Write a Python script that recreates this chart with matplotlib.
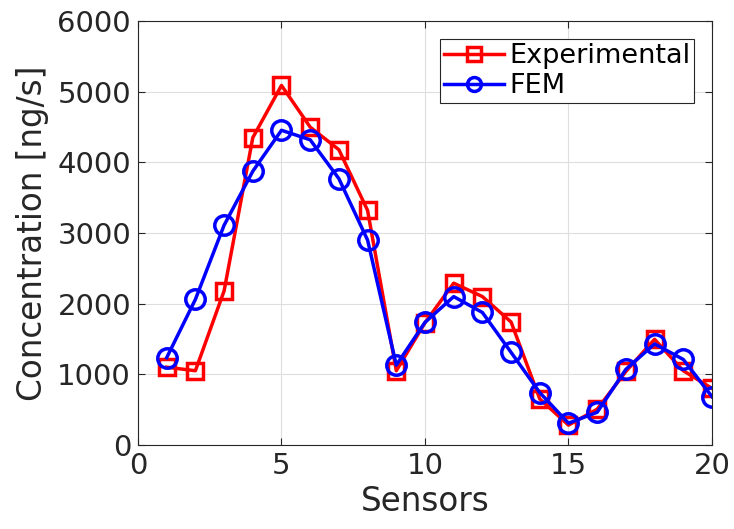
import matplotlib
matplotlib.use('Agg')
import matplotlib.pyplot as plt

sensors = list(range(1, 21))
experimental = [1100, 1050, 2180, 4350, 5090, 4500, 4180, 3320, 1050, 1730,
                2290, 2100, 1740, 650, 280, 505, 1040, 1495, 1050, 800]
fem = [1235, 2060, 3110, 3875, 4455, 4320, 3770, 2900, 1130, 1735,
       2100, 1875, 1310, 740, 307, 462, 1070, 1430, 1210, 683]

plt.rcParams['font.family'] = 'DejaVu Sans'
dark = (0.15, 0.15, 0.15)

fig = plt.figure(figsize=(7.34, 5.29), dpi=100)
ax = fig.add_axes([0.188, 0.159, 0.782, 0.801])

ax.plot(sensors, experimental, color='red', lw=2.5, marker='s', markersize=12,
        markerfacecolor='none', markeredgewidth=2.5, label='Experimental')
ax.plot(sensors, fem, color='blue', lw=2.5, marker='o', markersize=14,
        markerfacecolor='none', markeredgewidth=2.5, label='FEM')

ax.set_xlim(0, 20)
ax.set_ylim(0, 6000)
ax.set_xticks([0, 5, 10, 15, 20])
ax.set_yticks(range(0, 6001, 1000))
ax.grid(True, color=(0.87, 0.87, 0.87), lw=0.8)
ax.set_axisbelow(True)
ax.tick_params(direction='in', top=True, right=True, labelsize=21,
               colors=dark, length=5, pad=5)
for s in ax.spines.values():
    s.set_color(dark)
    s.set_linewidth(0.8)

ax.set_xlabel('Sensors', fontsize=23.5, color=dark, labelpad=4)
ax.set_ylabel('Concentration [ng/s]', fontsize=23.5, color=dark, labelpad=6)

leg = ax.legend(loc='upper right', bbox_to_anchor=(0.9695, 0.958), fontsize=19.5,
                fancybox=False, edgecolor=dark, framealpha=1,
                handlelength=2.2, handletextpad=0.2, borderpad=0.15,
                labelspacing=0.15, borderaxespad=0)
leg.get_frame().set_linewidth(0.8)
for h in leg.get_lines():
    h.set_markersize(10)

fig.savefig('out.png', dpi=100)
